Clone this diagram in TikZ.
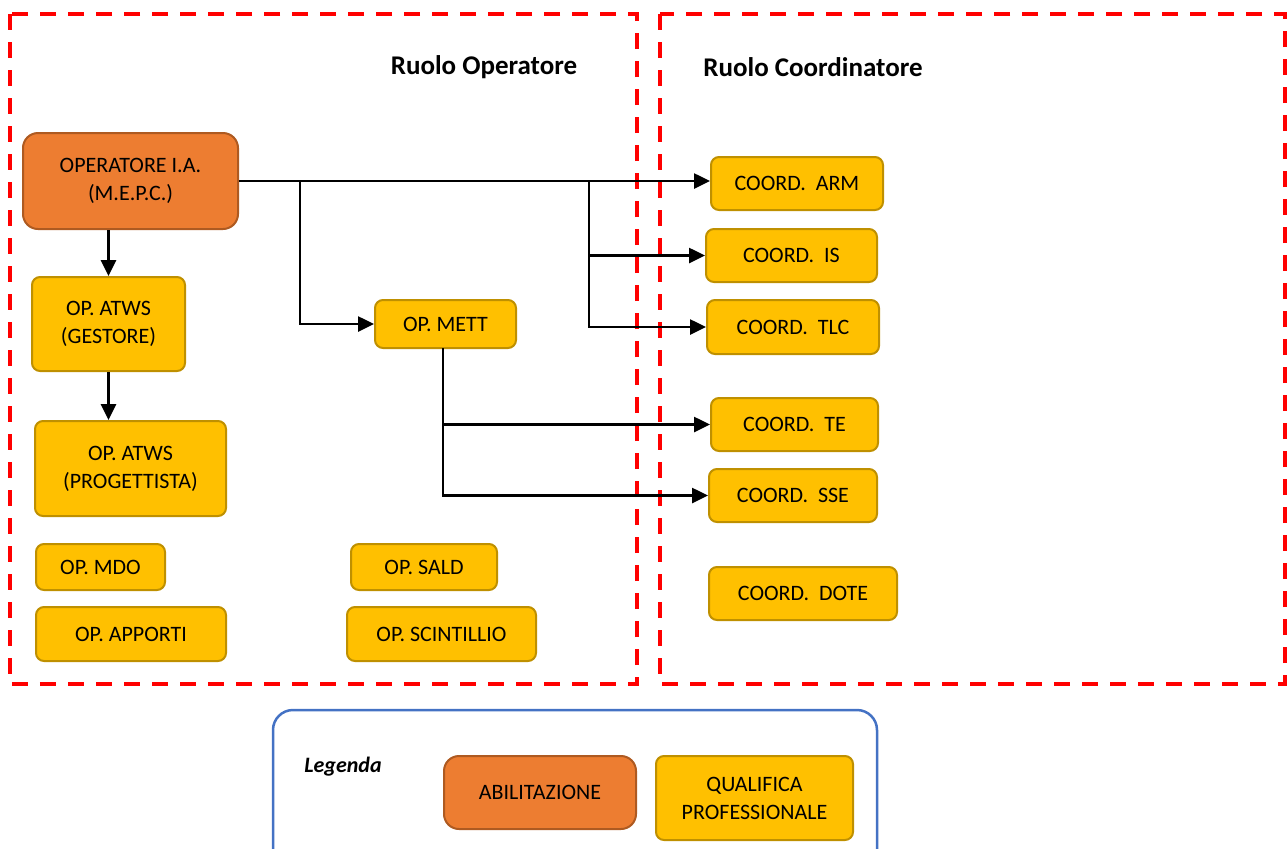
\documentclass[tikz,border=0pt]{standalone}
\usepackage{fontspec}
\setmainfont{Carlito}
\usetikzlibrary{arrows.meta}
\definecolor{ofill}{HTML}{ED7D31}
\definecolor{obord}{HTML}{AE5A21}
\definecolor{yfill}{HTML}{FFC000}
\definecolor{ybord}{HTML}{BF9000}
\definecolor{lblue}{HTML}{4472C4}
\definecolor{dred}{HTML}{FF0000}
\tikzset{
  ybox/.style={draw=ybord, fill=yfill, line width=1pt, rounded corners=4pt, align=center, inner sep=0pt, font=\fontsize{11}{14}\selectfont},
  obox/.style={draw=obord, fill=ofill, line width=1pt, rounded corners=7.5pt, align=center, inner sep=0pt, font=\fontsize{11}{14}\selectfont},
  region/.style={draw=dred, line width=1.75pt, dash pattern=on 8pt off 6pt},
  title/.style={font=\fontsize{13.5}{16}\selectfont\bfseries, inner sep=0pt},
  conn/.style={line width=1.3pt, black},
  arr/.style={conn, -{Triangle[length=8pt,width=7.5pt]}},
}
\begin{document}
\begin{tikzpicture}[x=0.5pt,y=-0.5pt]
\useasboundingbox (0,0) rectangle (1287,848);
% regions
\draw[region] (10,14) rectangle (637,684);
\draw[region] (660,14) rectangle (1285,684);
\node[title] (t1) at (484,67) {Ruolo Operatore};
\node[title] (t2) at (813,67) {Ruolo Coordinatore};
% nodes
\node[obox, minimum width=107.5pt, minimum height=48pt] (opia) at (130.5,181) {OPERATORE I.A.\\(M.E.P.C.)};
\node[ybox, minimum width=76.5pt, minimum height=47pt] (gest) at (108.5,324) {OP. ATWS\\(GESTORE)};
\node[ybox, minimum width=95.5pt, minimum height=47.5pt] (prog) at (130.5,468.5) {OP. ATWS\\(PROGETTISTA)};
\node[ybox, minimum width=64.5pt, minimum height=23pt] (mdo) at (100.5,567) {OP. MDO};
\node[ybox, minimum width=95pt, minimum height=27pt] (app) at (131,634) {OP. APPORTI};
\node[ybox, minimum width=70.5pt, minimum height=24pt] (mett) at (445.5,324) {OP. METT};
\node[ybox, minimum width=73pt, minimum height=23pt] (sald) at (424,567) {OP. SALD};
\node[ybox, minimum width=94.5pt, minimum height=27pt] (scin) at (441.5,634) {OP. SCINTILLIO};
\node[ybox, minimum width=86pt, minimum height=26.5pt] (arm) at (797,183.5) {COORD.\ \ ARM};
\node[ybox, minimum width=85.5pt, minimum height=26.5pt] (is) at (791.5,255.5) {COORD.\ \ IS};
\node[ybox, minimum width=86pt, minimum height=27pt] (tlc) at (793,327) {COORD.\ \ TLC};
\node[ybox, minimum width=83.5pt, minimum height=26.5pt] (te) at (794.5,424.5) {COORD.\ \ TE};
\node[ybox, minimum width=84pt, minimum height=26.5pt] (sse) at (793,495.5) {COORD.\ \ SSE};
\node[ybox, minimum width=94pt, minimum height=26.5pt] (dote) at (803,593.5) {COORD.\ \ DOTE};
% connectors
\coordinate (b1) at (300,181);
\coordinate (b2) at (589,181);
\draw[arr] (opia.east) -- (opia.east -| arm.west);
\draw[arr] (b1) |- (mett.west);
\draw[arr] (b2) |- (is.west);
\draw[arr] (b2) |- (tlc.west);
\draw[arr] (opia.south -| gest.north) -- (gest.north);
\draw[arr] (gest.south) -- (gest.south |- prog.north);
\coordinate (m1) at (443,348);
\draw[arr] (m1) |- (te.west);
\draw[arr] (m1) |- (sse.west);
% legend
\begin{scope}
\clip (0,0) rectangle (1287,848);
\draw[lblue, line width=1.25pt, rounded corners=10pt] (273,710) rectangle (877,880);
\end{scope}
\node[font=\fontsize{11}{14}\selectfont\bfseries\itshape, inner sep=0pt] (leg) at (343,767) {Legenda};
\node[obox, minimum width=96pt, minimum height=36.5pt] (abil) at (540,792.5) {ABILITAZIONE};
\node[ybox, minimum width=98.5pt, minimum height=42pt] (qual) at (754.5,798) {QUALIFICA\\PROFESSIONALE};
\end{tikzpicture}
\end{document}
